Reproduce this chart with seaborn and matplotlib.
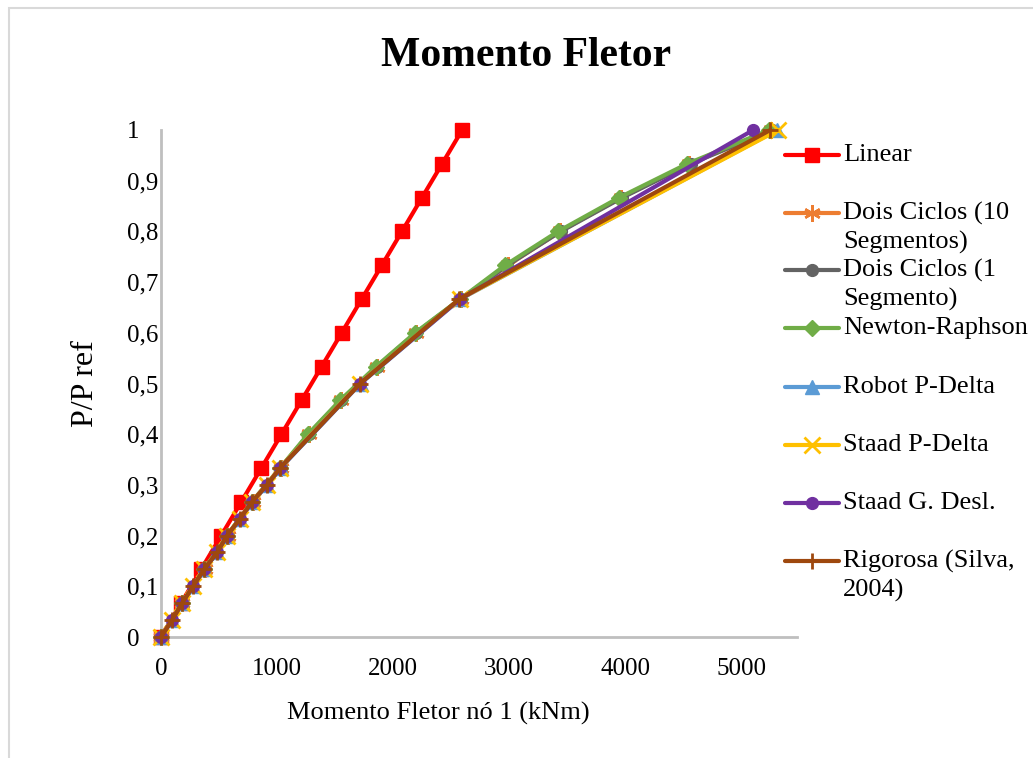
import matplotlib
matplotlib.use("Agg")
import matplotlib.pyplot as plt
from matplotlib.lines import Line2D
from matplotlib.patches import Rectangle
import seaborn as sns
import pandas as pd

# ---------------- data ----------------
y_15 = [0, 0.0667, 0.1333, 0.2, 0.2667, 0.3333, 0.4, 0.4667, 0.5333, 0.6,
        0.6667, 0.7333, 0.8, 0.8667, 0.9333, 1.0]
y_30 = [0, 0.0333, 0.0667, 0.1, 0.1333, 0.1667, 0.2, 0.2333, 0.2667, 0.3,
        0.3333, 0.5, 0.6667, 1.0]

linear_x = [0, 173, 346, 519, 692, 865, 1038, 1211, 1384, 1557, 1730, 1903,
            2076, 2249, 2422, 2595]
dois10_x = [0, 184, 375, 575, 790, 1032, 1276, 1553, 1863, 2200, 2585, 2990,
            3440, 3965, 4550, 5260]
dois1_x = [0, 183, 373, 572, 788, 1030, 1272, 1550, 1860, 2197, 2583, 2985,
           3445, 3975, 4565, 5265]
newton_x = [0, 181, 371, 569, 784, 1026, 1267, 1543, 1853, 2190, 2578, 2966,
            3422, 3948, 4534, 5240]
robot_x = [0, 95, 183, 278, 373, 485, 572, 684, 787, 917, 1030, 1720, 2580, 5310]
staadp_x = [0, 93, 180, 274, 369, 480, 566, 678, 781, 910, 1022, 1712, 2575, 5319]
staadg_x = [0, 95, 181, 276, 371, 483, 569, 681, 784, 914, 1026, 1716, 2578, 5103]
rigor_x = [0, 95, 181, 276, 371, 483, 569, 681, 784, 914, 1026, 1716, 2570, 5250]

series_names = ["Linear", "Dois Ciclos (10\nSegmentos)", "Dois Ciclos (1\nSegmento)",
                "Newton-Raphson", "Robot P-Delta", "Staad P-Delta",
                "Staad G. Desl.", "Rigorosa (Silva,\n2004)"]
series_x = [linear_x, dois10_x, dois1_x, newton_x, robot_x, staadp_x, staadg_x, rigor_x]
series_y = [y_15, y_15, y_15, y_15, y_30, y_30, y_30, y_30]

x_ticks = [0, 1000, 2000, 3000, 4000, 5000]
y_ticks = [0, 0.1, 0.2, 0.3, 0.4, 0.5, 0.6, 0.7, 0.8, 0.9, 1.0]
y_tick_labels = ["0", "0,1", "0,2", "0,3", "0,4", "0,5", "0,6", "0,7", "0,8", "0,9", "1"]

title = "Momento Fletor"
xlabel = "Momento Fletor nó 1 (kNm)"
ylabel = "P/P ref"

# ---------------- styles ----------------
colors = ["#FF0000", "#ED7D31", "#636363", "#70AD47", "#5B9BD5", "#FFC000",
          "#7030A0", "#9E480E"]
markers = ["s", (6, 2, 0), "o", "D", "^", "x", "o", "+"]
msizes = [9.5, 12, 8.5, 8.5, 10, 11, 8.5, 12]
mews = [1, 1.8, 1, 1, 1, 2, 1, 2]

sns.set_theme(style="white")
plt.rcParams["font.family"] = ["Liberation Serif", "DejaVu Serif"]

W, H = 1033, 758
fig = plt.figure(figsize=(W / 100, H / 100), dpi=100)
ax = fig.add_axes([161 / W, 1 - 637 / H, (797 - 161) / W, (637 - 130) / H])

for i, (name, xs, ys) in enumerate(zip(series_names, series_x, series_y)):
    df = pd.DataFrame({"M": xs, "P": ys})
    sns.lineplot(data=df, x="M", y="P", ax=ax, sort=False, estimator=None,
                 color=colors[i], lw=3, marker=markers[i], markersize=msizes[i],
                 markeredgewidth=mews[i], markeredgecolor=colors[i],
                 markerfacecolor=colors[i], zorder=2 + i, clip_on=False)

ax.set_xlim(0, 5480)
ax.set_ylim(0, 1)
ax.set_xticks(x_ticks)
ax.set_xticklabels([str(v) for v in x_ticks])
ax.set_yticks(y_ticks)
ax.set_yticklabels(y_tick_labels)
for lab in ax.get_yticklabels():
    lab.set_horizontalalignment("left")
ax.tick_params(axis="x", length=0, pad=15, labelsize=18, colors="black")
ax.tick_params(axis="y", length=0, pad=24.5, labelsize=18, colors="black")
ax.set_xlabel(xlabel, fontsize=19, color="black")
ax.set_ylabel(ylabel, fontsize=23, color="black")
ax.xaxis.set_label_coords((438 - 161) / 636, (637 - 713) / 507)
ax.xaxis.label.set_va("center")
ax.yaxis.set_label_coords((86 - 161) / 636, 0.5)
ax.yaxis.label.set_va("center")
for s in ["top", "right"]:
    ax.spines[s].set_visible(False)
for s in ["left", "bottom"]:
    ax.spines[s].set_color("#BFBFBF")
    ax.spines[s].set_linewidth(2)
ax.grid(False)
ax.set_facecolor("white")

fig.text(526 / W, 1 - 56 / H, title, ha="center", va="center", fontsize=30,
         fontweight="bold", color="black")

# chart border (left and top visible)
fig.add_artist(Rectangle((9 / W, -0.1), 1.2, 1.1 - 8 / H, transform=fig.transFigure,
                         fill=False, edgecolor="#D9D9D9", lw=1.5))

# legend (manual)
leg_y = [155, 213, 270, 328, 387, 445, 503, 561]
for i, name in enumerate(series_names):
    yy = 1 - leg_y[i] / H
    fig.add_artist(Line2D([785 / W, 812 / W, 839 / W], [yy, yy, yy],
                          transform=fig.transFigure, color=colors[i], lw=3,
                          marker=markers[i], markevery=[1], markersize=msizes[i],
                          markeredgewidth=mews[i], markeredgecolor=colors[i],
                          markerfacecolor=colors[i]))
    for j, line in enumerate(name.split("\n")):
        fig.text(843 / W, 1 - (leg_y[i] + 29 * j) / H, line, ha="left",
                 va="center", fontsize=19, color="black")

fig.savefig("out.png", dpi=100)
